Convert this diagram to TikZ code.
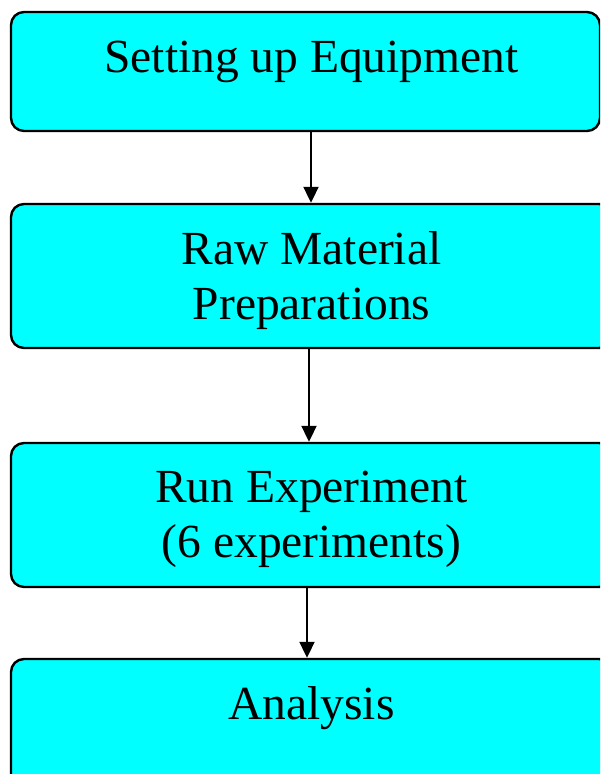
\documentclass[tikz,border=0pt]{standalone}
\usepackage{fontspec}
\setmainfont{Liberation Serif}
\usetikzlibrary{arrows.meta}
\definecolor{boxcyan}{RGB}{0,255,255}
\tikzset{
  stepbox/.style={draw=black, line width=2.4pt, fill=boxcyan, rounded corners=13pt, inner sep=0pt},
  boxtext/.style={font=\fontsize{47.5}{55}\selectfont, align=center, inner sep=0pt, anchor=base},
  arr/.style={line width=2pt, -{Triangle[length=16pt,width=15pt]}}
}
\begin{document}
\begin{tikzpicture}[x=1pt,y=-1pt]
\useasboundingbox (0,0) rectangle (600,774);
\clip (0,0) rectangle (600,774);
\node[stepbox, minimum width=589pt, minimum height=119pt] (b1) at (305.5,71.5) {};
\node[stepbox, minimum width=601pt, minimum height=144pt] (b2) at (311.5,276) {};
\node[stepbox, minimum width=601pt, minimum height=144pt] (b3) at (311.5,515) {};
\node[stepbox, minimum width=601pt, minimum height=150pt] (b4) at (311.5,734) {};
\node[boxtext] (t1) at (311.5,72) {Setting up Equipment};
\node[boxtext] (t2) at (311.5,319) {Raw Material\\Preparations};
\node[boxtext] (t3) at (311.5,557) {Run Experiment\\(6 experiments)};
\node[boxtext] (t4) at (311.5,719) {Analysis};
\draw[arr] ([xshift=5.5pt]b1.south) -- ([xshift=-0.5pt]b2.north);
\draw[arr] ([xshift=-2.5pt]b2.south) -- ([xshift=-2.5pt]b3.north);
\draw[arr] ([xshift=-4.5pt]b3.south) -- ([xshift=-4.5pt]b4.north);
\end{tikzpicture}
\end{document}
